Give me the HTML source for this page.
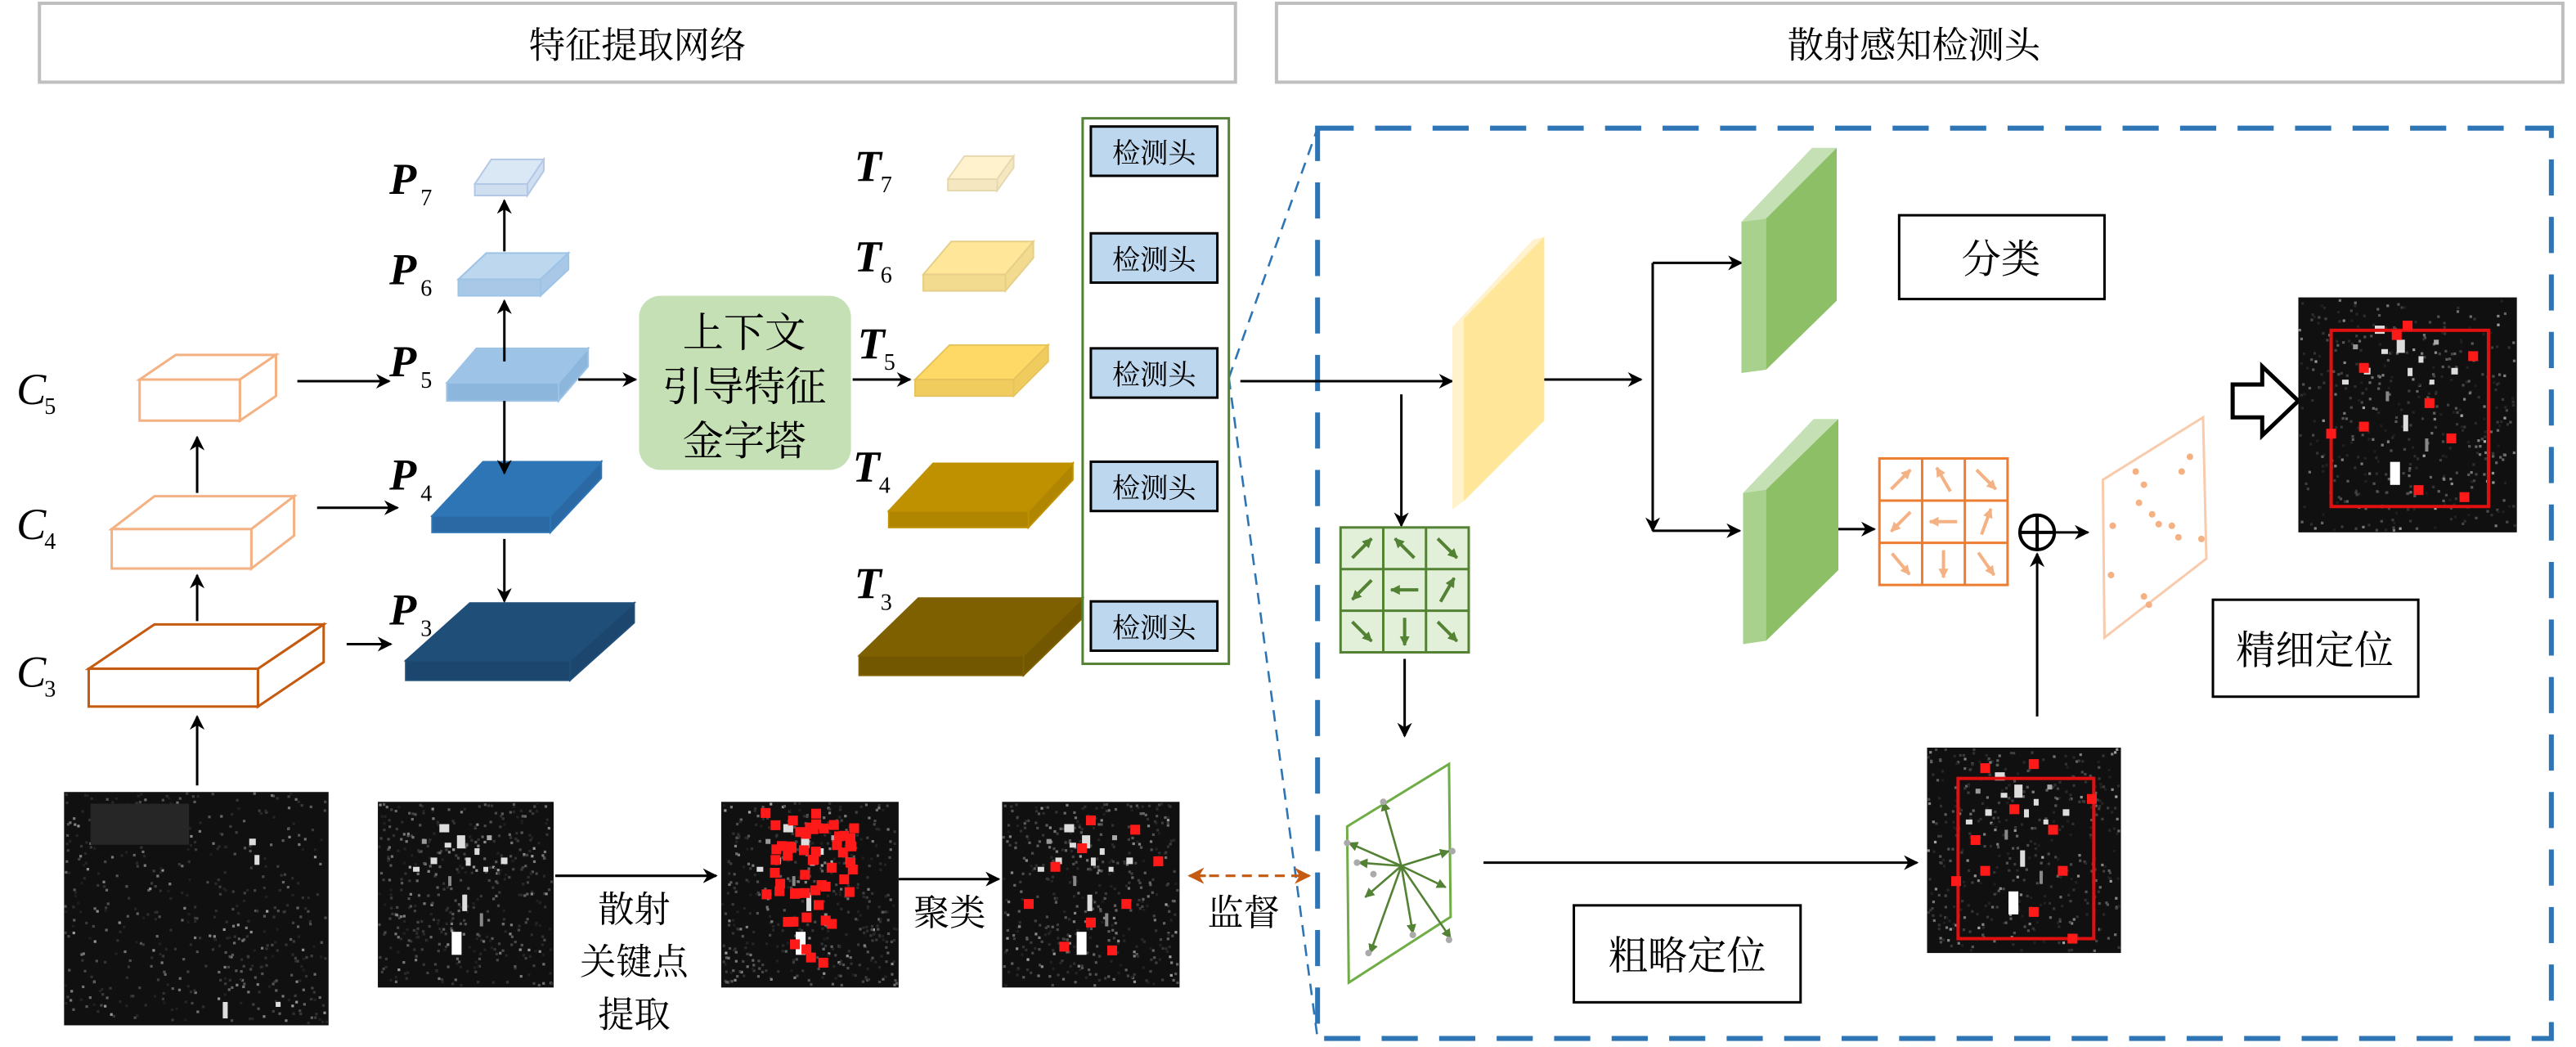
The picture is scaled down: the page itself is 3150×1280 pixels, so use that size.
<!DOCTYPE html>
<html><head><meta charset="utf-8"><style>
html,body{margin:0;padding:0;background:#fff;}
svg{display:block;}
text{font-family:"Liberation Serif","Noto Serif CJK SC","Noto Sans CJK SC",serif;}
.cj{font-family:"Liberation Serif","Noto Serif CJK SC","Noto Sans CJK SC",serif;}
</style></head><body>
<svg id="s" width="3150" height="1280" viewBox="0 0 1568 637.2" preserveAspectRatio="none" xmlns="http://www.w3.org/2000/svg">
<defs>
<marker id="a" viewBox="0 0 10 10" refX="9" refY="5" markerWidth="9" markerHeight="9" markerUnits="userSpaceOnUse" orient="auto"><path d="M0,0 L10,5 L0,10 L3,5z" fill="#000"/></marker>
<marker id="o" viewBox="0 0 10 10" refX="9" refY="5" markerWidth="10" markerHeight="10" markerUnits="userSpaceOnUse" orient="auto"><path d="M0,0 L10,5 L0,10 L3,5z" fill="#c55a11"/></marker>
<marker id="ga" viewBox="0 0 10 10" refX="9" refY="5" markerWidth="6" markerHeight="6" markerUnits="userSpaceOnUse" orient="auto"><path d="M0,0 L10,5 L0,10z" fill="#548235"/></marker>
<marker id="oa" viewBox="0 0 10 10" refX="9" refY="5" markerWidth="6" markerHeight="6" markerUnits="userSpaceOnUse" orient="auto"><path d="M0,0 L10,5 L0,10z" fill="#f4b183"/></marker>
</defs>
<rect x="24" y="2" width="728" height="48" fill="#fff" stroke="#bfbfbf" stroke-width="2"/>
<text x="388" y="35" font-size="22" text-anchor="middle" class="cj">特征提取网络</text>
<rect x="777" y="2" width="783" height="48" fill="#fff" stroke="#bfbfbf" stroke-width="2"/>
<text x="1165" y="35" font-size="22" text-anchor="middle" class="cj">散射感知检测头</text>

<rect x="802" y="78" width="751" height="554" fill="none" stroke="#2e75b6" stroke-width="3" stroke-dasharray="22,13"/>
<path d="M748,230 L802,78 M748,230 L802,632" stroke="#2e75b6" stroke-width="1.3" stroke-dasharray="7,5" fill="none"/>

<g id="cubes"></g>

<g font-size="27" font-style="italic">
<text x="10" y="246">C</text><text x="27" y="252" font-size="14" font-style="normal">5</text>
<text x="10" y="328">C</text><text x="27" y="334" font-size="14" font-style="normal">4</text>
<text x="10" y="418">C</text><text x="27" y="424" font-size="14" font-style="normal">3</text>
</g>
<g font-size="27" font-style="italic" font-weight="bold">
<text x="237" y="118">P</text><text x="256" y="125" font-size="14" font-style="normal" font-weight="normal">7</text>
<text x="237" y="173">P</text><text x="256" y="180" font-size="14" font-style="normal" font-weight="normal">6</text>
<text x="237" y="229">P</text><text x="256" y="236" font-size="14" font-style="normal" font-weight="normal">5</text>
<text x="237" y="298">P</text><text x="256" y="305" font-size="14" font-style="normal" font-weight="normal">4</text>
<text x="237" y="380">P</text><text x="256" y="387" font-size="14" font-style="normal" font-weight="normal">3</text>
<text x="520" y="110">T</text><text x="536" y="117" font-size="14" font-style="normal" font-weight="normal">7</text>
<text x="520" y="165">T</text><text x="536" y="172" font-size="14" font-style="normal" font-weight="normal">6</text>
<text x="522" y="218">T</text><text x="538" y="225" font-size="14" font-style="normal" font-weight="normal">5</text>
<text x="519" y="293">T</text><text x="535" y="300" font-size="14" font-style="normal" font-weight="normal">4</text>
<text x="520" y="364">T</text><text x="536" y="371" font-size="14" font-style="normal" font-weight="normal">3</text>
</g>

<rect x="389" y="180" width="129" height="106" rx="13" fill="#c5e0b4"/>
<g font-size="25" text-anchor="middle" class="cj"><text x="453" y="211">上下文</text><text x="453" y="244">引导特征</text><text x="453" y="277">金字塔</text></g>

<rect x="659" y="72" width="89" height="332" fill="none" stroke="#548235" stroke-width="1.5"/>
<g id="dets"></g>

<g stroke="#000" stroke-width="1.5" fill="none" marker-end="url(#a)">
<path d="M120,378 L120,350"/><path d="M120,300 L120,266"/><path d="M120,478 L120,436"/>
<path d="M181,232 L237,232"/><path d="M193,309 L242,309"/><path d="M211,392 L238,392"/>
<path d="M307,220 L307,183"/><path d="M307,153 L307,122"/><path d="M307,244 L307,288"/><path d="M307,328 L307,366"/>
<path d="M352,231 L387,231"/><path d="M519,231 L554,231"/><path d="M755,232 L884,232"/>
<path d="M338,533 L436,533"/><path d="M547,535 L608,535"/>
<path d="M939,231 L999,231"/><path d="M1006,160 L1006,323"/><path d="M1006,160 L1060,160"/><path d="M1006,323 L1059,323"/>
<path d="M1112,322 L1141,322"/><path d="M1251,324 L1271,324"/><path d="M1240,436 L1240,337"/>
<path d="M853,240 L853,320"/><path d="M855,401 L855,448"/><path d="M903,525 L1167,525"/>
</g>
<path d="M726,533 L797,533" stroke="#c55a11" stroke-width="1.6" stroke-dasharray="6,4" fill="none" marker-end="url(#o)"/>
<path d="M734,533 L724,533" stroke="#c55a11" stroke-width="1.6" marker-end="url(#o)"/>

<g font-size="22" text-anchor="middle" class="cj">
<text x="386" y="561">散射</text><text x="386" y="593">关键点</text><text x="386" y="625">提取</text>
<text x="578" y="563">聚类</text><text x="757" y="563">监督</text>
</g>

<polygon points="884,199 891,194 891,305 884,310" fill="#fff2cc"/>
<polygon points="884,199 933,146 940,144 891,194" fill="#fff2cc"/>
<polygon points="891,194 940,144 940,256 891,305" fill="#ffe699"/>
<polygon points="1060,135 1075,133 1075,225 1060,227" fill="#a9d18e"/>
<polygon points="1060,135 1103,90 1118,90 1075,133" fill="#c5e0b4"/>
<polygon points="1075,133 1118,90 1118,183 1075,225" fill="#8dbf67"/>
<polygon points="1061,300 1075,298 1075,390 1061,392" fill="#a9d18e"/>
<polygon points="1061,300 1104,255 1119,255 1075,298" fill="#c5e0b4"/>
<polygon points="1075,298 1119,255 1119,347 1075,390" fill="#8dbf67"/>

<rect x="1156" y="131" width="125" height="51" fill="#fff" stroke="#000" stroke-width="1.5"/>
<text x="1218" y="166" font-size="24" text-anchor="middle" class="cj">分类</text>
<rect x="1347" y="365" width="125" height="59" fill="#fff" stroke="#000" stroke-width="1.5"/>
<text x="1409" y="404" font-size="24" text-anchor="middle" class="cj">精细定位</text>
<rect x="958" y="551" width="138" height="59" fill="#fff" stroke="#000" stroke-width="1.5"/>
<text x="1027" y="590" font-size="24" text-anchor="middle" class="cj">粗略定位</text>

<g id="grids"></g>
<circle cx="1240" cy="324" r="10.5" fill="none" stroke="#000" stroke-width="2"/>
<path d="M1229.5,324 H1250.5 M1240,313.5 V334.5" stroke="#000" stroke-width="2"/>

<polygon points="1280,292 1341,254 1343,340 1281,388" fill="none" stroke="#f8cbad" stroke-width="1.5"/>
<g fill="#f4b183"><circle cx="1300" cy="287" r="2"/><circle cx="1305" cy="295" r="2"/><circle cx="1333" cy="278" r="2"/><circle cx="1328" cy="287" r="2"/><circle cx="1302" cy="306" r="2"/><circle cx="1310" cy="313" r="2"/><circle cx="1314" cy="319" r="2"/><circle cx="1322" cy="320" r="2"/><circle cx="1326" cy="327" r="2"/><circle cx="1340" cy="328" r="2"/><circle cx="1286" cy="320" r="2"/><circle cx="1285" cy="350" r="2"/><circle cx="1305" cy="363" r="2"/><circle cx="1308" cy="368" r="2"/></g>
<polygon points="820,503 882,465 883,558 821,598" fill="none" stroke="#70ad47" stroke-width="1.5"/>
<g stroke="#548235" stroke-width="1.3" marker-end="url(#ga)">
<path d="M853,527 L842,488"/><path d="M853,527 L821,513"/><path d="M853,527 L827,525"/><path d="M853,527 L831,546"/><path d="M853,527 L834,580"/><path d="M853,527 L860,568"/><path d="M853,527 L880,540"/><path d="M853,527 L882,518"/><path d="M853,527 L883,571"/>
</g>
<g fill="#aaa"><circle cx="842" cy="488" r="2"/><circle cx="820" cy="513" r="2"/><circle cx="826" cy="525" r="2"/><circle cx="836" cy="532" r="2"/><circle cx="833" cy="580" r="2"/><circle cx="860" cy="569" r="2"/><circle cx="884" cy="518" r="2"/><circle cx="882" cy="572" r="2"/></g>

<polygon points="1359,234 1377,234 1377,223 1399,244 1377,265 1377,254 1359,254" fill="#fff" stroke="#000" stroke-width="2.5"/>

<g id="imgs"></g>
</svg>
<script>
var NS="http://www.w3.org/2000/svg";
function el(p,t,a){var e=document.createElementNS(NS,t);for(var k in a)e.setAttribute(k,a[k]);p.appendChild(e);return e;}
var cubes=document.getElementById('cubes');
function cube(x,y,w,h,dx,dy,fill,stroke,sw,side){
 el(cubes,'polygon',{points:[x,y,x+dx,y-dy,x+w+dx,y-dy,x+w,y].join(' '),fill:fill,stroke:stroke,'stroke-width':sw});
 el(cubes,'polygon',{points:[x+w,y,x+w+dx,y-dy,x+w+dx,y+h-dy,x+w,y+h].join(' '),fill:side||fill,stroke:stroke,'stroke-width':sw});
 el(cubes,'rect',{x:x,y:y,width:w,height:h,fill:side||fill,stroke:stroke,'stroke-width':sw});
}
cube(85,231,61,25,22,15,'#fff','#f4b183',1.5);
cube(68,322,85,24,26,20,'#fff','#f4b183',1.5);
cube(54,407,103,23,40,27,'#fff','#c55a11',1.5);
cube(289,112,32,7,10,15,'#dae8f5','#b4c7e7',1,'#cfdff0');
cube(279,170,50,10,17,16,'#bdd7ee','#9dc3e6',1,'#a9c8e8');
cube(272,233,68,11,18,21,'#9dc3e6','#9dc3e6',1,'#8db6dd');
cube(263,314,72,10,31,33,'#2e75b6','#2e75b6',1,'#2a69a4');
cube(247,402,100,12,39,35,'#1f4e79','#1f4e79',1,'#1c466d');
cube(577,109,30,7,10,14,'#fff2cc','#e6d9b0',1,'#f5e8c0');
cube(562,167,50,10,17,20,'#ffe699','#e6cf88',1,'#f2da8e');
cube(557,231,60,10,21,21,'#ffd966','#e6c35c',1,'#f0cc5e');
cube(541,311,85,10,27,29,'#bf9000','#bf9000',1,'#b08500');
cube(523,399,100,12,36,35,'#7f6000','#7f6000',1,'#735700');
var dets=document.getElementById('dets');
[77,142,212,281,366].forEach(function(y){
 el(dets,'rect',{x:664,y:y,width:77,height:30,fill:'#bdd7ee',stroke:'#000','stroke-width':1.5});
 var t=el(dets,'text',{x:702.5,y:y+22,'font-size':17,'text-anchor':'middle','class':'cj'});t.textContent='检测头';
});
var grids=document.getElementById('grids');
function grid(x,y,w,h,fill,stroke,angs,mk){
 el(grids,'rect',{x:x,y:y,width:w,height:h,fill:fill,stroke:stroke,'stroke-width':1.5});
 for(var i=1;i<3;i++){el(grids,'line',{x1:x+w*i/3,y1:y,x2:x+w*i/3,y2:y+h,stroke:stroke,'stroke-width':1.5});el(grids,'line',{x1:x,y1:y+h*i/3,x2:x+w,y2:y+h*i/3,stroke:stroke,'stroke-width':1.5});}
 var cw=w/3,ch=h/3;
 for(var r=0;r<3;r++)for(var c=0;c<3;c++){var a=angs[r*3+c]*Math.PI/180,cx=x+cw*(c+.5),cy=y+ch*(r+.5),L=cw*0.32;
  el(grids,'line',{x1:cx-L*Math.cos(a),y1:cy+L*Math.sin(a),x2:cx+L*Math.cos(a),y2:cy-L*Math.sin(a),stroke:mk=='g'?'#548235':'#f4b183','stroke-width':2,'marker-end':'url(#'+mk+'a)'});}
}
grid(816,321,78,76,'#e2f0d9','#548235',[45,135,-45,-135,180,60,-45,-90,-45],'g');
grid(1144,279,78,77,'#fff','#ed7d31',[45,120,-45,-135,180,70,-50,-90,-55],'o');
var imgs=document.getElementById('imgs');
function rnd(s){return function(){s=(s*16807)%2147483647;return s/2147483647;};}
function sar(x,y,w,h,seed,blobs,reds,box,n){
 el(imgs,'rect',{x:x,y:y,width:w,height:h,fill:'#101010'});
 var r=rnd(seed);
 for(var i=0;i<(n||450);i++){var g=Math.floor(30+r()*r()*150);el(imgs,'rect',{x:x+r()*(w-2),y:y+r()*(h-2),width:1.6,height:1.6,fill:'rgb('+g+','+g+','+g+')'});}
 blobs.forEach(function(b){el(imgs,'rect',{x:x+b[0]*w,y:y+b[1]*h,width:b[2],height:b[3],fill:b[4]||'#ddd'});});
 if(box)el(imgs,'rect',{x:x+box[0]*w,y:y+box[1]*h,width:box[2]*w,height:box[3]*h,fill:'none',stroke:'#e01010','stroke-width':2});
 reds.forEach(function(b){el(imgs,'rect',{x:x+b[0]*w-3,y:y+b[1]*h-3,width:6,height:6,fill:'#ff1a1a'});});
}
var fig=[[.35,.12,6,5],[.45,.18,5,8],[.3,.3,4,4],[.55,.25,3,4],[.6,.35,3,3],[.2,.35,4,3],[.7,.3,4,4],[.48,.5,3,10],[.42,.7,6,14,'#fff'],[.5,.3,3,5],[.38,.22,4,3],[.25,.2,3,3,'#999'],[.62,.18,3,3,'#aaa'],[.4,.4,2,6,'#888'],[.58,.6,2,8,'#888']];
sar(39,482,161,142,7,[[.1,.05,60,25,'#262626'],[.7,.2,4,4],[.72,.27,3,6],[.6,.9,3,10],[.8,.9,3,3]],[],null,500);
sar(230,488,107,113,11,fig,[],null);
var reds=[];var rr=rnd(99);for(var i=0;i<45;i++)reds.push([.25+rr()*.5,.05+rr()*.45]);
for(i=0;i<10;i++)reds.push([.35+rr()*.3,.5+rr()*.45]);
sar(439,488,108,113,13,fig,reds,null);
var cl=[[.5,.1],[.75,.15],[.45,.25],[.3,.35],[.88,.32],[.15,.55],[.7,.55],[.35,.78],[.62,.8],[.5,.65]];
sar(610,488,108,113,17,fig,cl,null);
sar(1173,455,118,125,19,fig,[[.3,.1],[.55,.08],[.85,.25],[.45,.3],[.25,.45],[.65,.4],[.3,.6],[.7,.6],[.55,.8],[.15,.65],[.75,.93]],[.16,.15,.7,.78]);
sar(1399,181,133,143,23,fig,[[.45,.16],[.3,.3],[.8,.25],[.6,.45],[.3,.55],[.15,.58],[.7,.6],[.55,.82],[.76,.85],[.5,.12]],[.15,.14,.72,.75]);
</script>
</body></html>
